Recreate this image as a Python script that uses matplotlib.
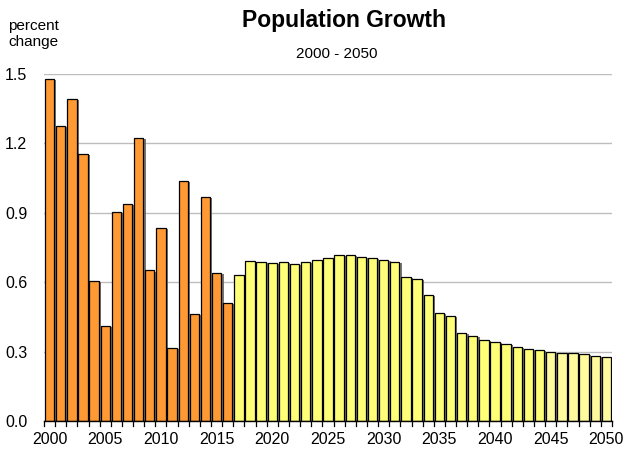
import numpy as np
import matplotlib
matplotlib.use("Agg")
import matplotlib.pyplot as plt
import matplotlib.patheffects as pe

plt.rcParams["font.family"] = ["Liberation Sans Narrow", "Liberation Sans", "DejaVu Sans"]

# --- data ---
years = list(range(2000, 2051))
actual = [1.477, 1.274, 1.391, 1.156, 0.605, 0.411, 0.902, 0.937, 1.225, 0.651,
          0.836, 0.317, 1.036, 0.463, 0.968, 0.640, 0.509]          # 2000-2016
projected = [0.633, 0.692, 0.689, 0.685, 0.689, 0.679, 0.686, 0.696, 0.705, 0.717,
             0.717, 0.711, 0.704, 0.696, 0.688, 0.622, 0.613, 0.544, 0.469, 0.456,
             0.380, 0.367, 0.349, 0.342, 0.332, 0.322, 0.313, 0.306, 0.300, 0.296,
             0.294, 0.290, 0.283, 0.278]                              # 2017-2050
tick_years = list(range(2000, 2051, 5))
y_ticks = [0.0, 0.3, 0.6, 0.9, 1.2, 1.5]

values = actual + projected
n_actual = len(actual)
colors = []
for i, yr in enumerate(years):
    if i < n_actual:
        colors.append("#FF9933")
    elif yr < 2045:
        colors.append("#FFFF77")
    else:
        colors.append("#FFFA9E")

fig = plt.figure(figsize=(6.23, 4.54), dpi=100)
ax = fig.add_axes([0.0706, 0.0727, 0.9117, 0.7643])

x = np.arange(len(years))
shadow = [pe.SimplePatchShadow(offset=(1.6, -0.8), shadow_rgbFace="#666666", alpha=0.9), pe.Normal()]
bars = ax.bar(x, values, width=0.84, color=colors, edgecolor="black", linewidth=0.9, zorder=3)
for b in bars:
    b.set_path_effects(shadow)

ax.set_xlim(-0.5, len(years) - 0.5)
ax.set_ylim(0, 1.5)
ax.set_yticks(y_ticks)
ax.set_yticklabels([f"{v:.1f}" for v in y_ticks], fontsize=11.5)
ax.yaxis.grid(True, color="#BDBDBD", linewidth=1.0, zorder=0)
ax.tick_params(axis="y", length=0, pad=12)

# category labels at bar centres, tick marks on the boundaries
ax.set_xticks([years.index(t) for t in tick_years])
ax.set_xticklabels([str(t) for t in tick_years], fontsize=11.5)
ax.tick_params(axis="x", length=0, pad=8)
for b in np.arange(-0.5, len(years), 1.0):
    ax.plot([b, b], [0, -0.022], color="black", linewidth=0.9, clip_on=False, zorder=4)

for s in ["top", "right", "left"]:
    ax.spines[s].set_visible(False)
ax.spines["bottom"].set_color("black")
ax.spines["bottom"].set_linewidth(1.0)
ax.spines["bottom"].set_zorder(5)

fig.text(0.552, 0.955, "Population Growth", ha="center", va="center",
         fontsize=16.5, fontweight="bold")
fig.text(0.54, 0.88, "2000 - 2050", ha="center", va="center", fontsize=11)
fig.text(0.013, 0.925, "percent\nchange", ha="left", va="center", fontsize=11,
         linespacing=1.25)

fig.savefig("out.png", dpi=100)
